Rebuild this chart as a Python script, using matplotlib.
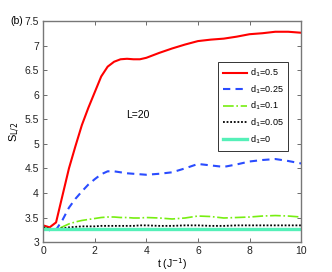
import matplotlib
matplotlib.use("Agg")
import matplotlib.pyplot as plt

# data
t = [0, 0.25, 0.5, 0.75, 1.0, 1.25, 1.5, 1.75, 2.0, 2.25, 2.5, 2.75, 3.0, 3.25,
     3.5, 3.75, 4.0, 4.5, 5.0, 5.5, 6.0, 6.5, 7.0, 7.5, 8.0, 8.5, 9.0, 9.5, 10.0]
s_05 = [3.34, 3.30, 3.40, 3.95, 4.50, 4.95, 5.38, 5.73, 6.05, 6.37, 6.57, 6.67, 6.72, 6.73,
        6.72, 6.72, 6.75, 6.85, 6.94, 7.02, 7.09, 7.12, 7.14, 7.18, 7.23, 7.25, 7.28, 7.28, 7.26]
s_025 = [3.30, 3.24, 3.25, 3.45, 3.70, 3.88, 4.03, 4.17, 4.28, 4.38, 4.44, 4.44, 4.42, 4.40,
         4.39, 4.38, 4.37, 4.39, 4.42, 4.50, 4.59, 4.56, 4.53, 4.58, 4.64, 4.67, 4.69, 4.65, 4.60]
s_01 = [3.30, 3.26, 3.25, 3.31, 3.37, 3.41, 3.44, 3.46, 3.48, 3.50, 3.51, 3.51, 3.50, 3.50,
        3.49, 3.49, 3.50, 3.49, 3.47, 3.49, 3.53, 3.52, 3.49, 3.50, 3.51, 3.53, 3.54, 3.53, 3.51]
s_005 = [3.30, 3.27, 3.26, 3.28, 3.30, 3.31, 3.32, 3.32, 3.32, 3.33, 3.33, 3.33, 3.33, 3.33,
         3.33, 3.34, 3.34, 3.33, 3.33, 3.34, 3.34, 3.33, 3.33, 3.34, 3.34, 3.34, 3.34, 3.34, 3.34]
s_0 = [3.27] * len(t)

labels = ["d$_1$=0.5", "d$_1$=0.25", "d$_1$=0.1", "d$_1$=0.05", "d$_1$=0"]

plt.rcParams['font.family'] = ['Liberation Sans', 'DejaVu Sans']
fig = plt.figure(figsize=(3.32, 2.72), dpi=100)
ax = fig.add_axes([0.130, 0.110, 0.777, 0.813])

ax.plot(t, s_05, color='#ff0000', lw=1.5, ls='-', label=labels[0])
ax.plot(t, s_025, color='#2a4cff', lw=1.5, ls=(0, (3.5, 2.5)), label=labels[1])
ax.plot(t, s_01, color='#77ee11', lw=1.2, ls='-.', label=labels[2])
ax.plot(t, s_005, color='black', lw=1.3, ls=(0, (1, 1)), label=labels[3])
ax.plot(t, s_0, color='#55f0b8', lw=2.4, ls='-', label=labels[4])

ax.set_xlim(0, 10)
ax.set_ylim(3, 7.5)
ax.set_xticks([0, 2, 4, 6, 8, 10])
ax.set_yticks([3, 3.5, 4, 4.5, 5, 5.5, 6, 6.5, 7, 7.5])
ax.set_yticklabels(['3', '3.5', '4', '4.5', '5', '5.5', '6', '6.5', '7', '7.5'])
ax.tick_params(direction='in', top=True, right=True, labelsize=7.5, length=3,
               width=0.6, colors='#555555', labelcolor='#222222', pad=3)
for sp in ax.spines.values():
    sp.set_color('#777777')
    sp.set_linewidth(1.0)

ax.set_xlabel('t (J$^{-1}$)', fontsize=7.5, labelpad=0)
ax.set_ylabel('S$_{\\rm L/2}$', fontsize=8, labelpad=2)
ax.text(3.65, 5.59, 'L=20', fontsize=7.5, ha='center', va='center')
fig.text(0.03, 0.924, '(b)', fontsize=7.5, ha='left', va='center')

leg = ax.legend(loc='upper right', bbox_to_anchor=(0.95, 0.815), fontsize=6.5,
                fancybox=False, edgecolor='#333333', framealpha=1,
                handlelength=2.6, handletextpad=0.3, labelspacing=0.45,
                borderpad=0.55, borderaxespad=0)
leg.get_frame().set_linewidth(0.7)

fig.savefig('out.png', dpi=100)
